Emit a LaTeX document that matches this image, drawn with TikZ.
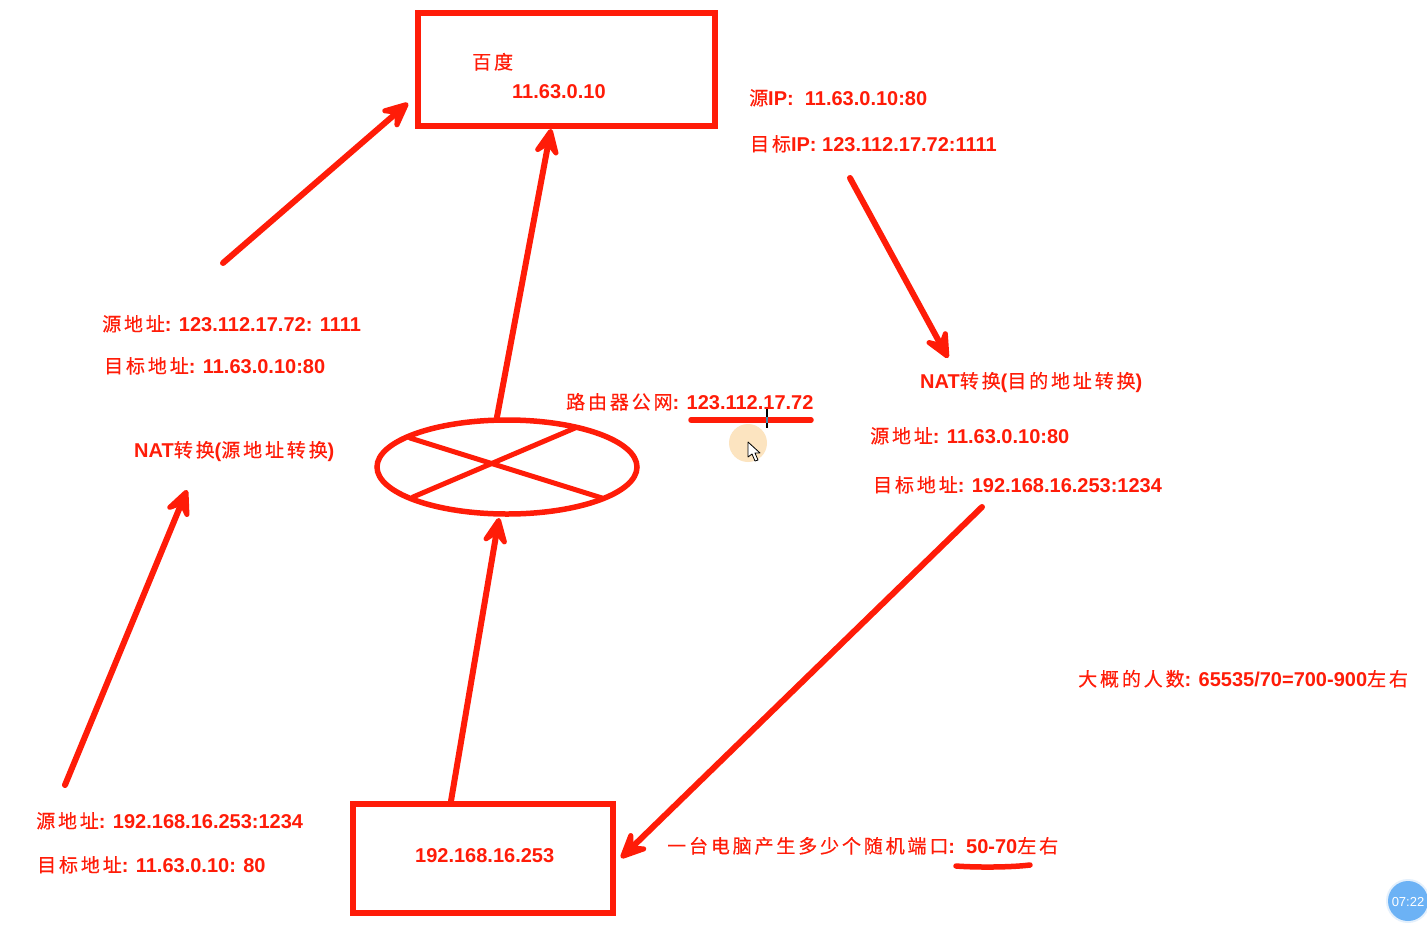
\documentclass[tikz,border=0pt]{standalone}
\usepackage{fontspec}
\setmainfont{Liberation Sans}[BoldFont={Liberation Sans Bold}]
\newfontfamily\cjkf[LetterSpace=15,FakeBold=0.4]{Noto Sans CJK SC}
\newcommand{\zh}[1]{{\cjkf\mdseries\fontsize{19}{20}\selectfont #1}}
\usetikzlibrary{arrows.meta,shapes.geometric}
\definecolor{inkred}{RGB}{255,28,8}
\definecolor{peach}{RGB}{252,228,192}
\definecolor{badge}{RGB}{108,178,245}
\definecolor{badgeedge}{RGB}{228,240,252}
\tikzset{
  x=1pt,y=-1pt,
  lbl/.style={anchor=base west,inner sep=0pt,text=inkred,font=\fontsize{20}{24}\selectfont\bfseries},
  boxn/.style={draw=inkred,line width=6pt,inner sep=0pt,fill=white},
  arr/.style={draw=inkred,line width=6pt,line cap=round,-{Stealth[round,length=36pt,width=33pt,inset=15pt,line width=5pt]}},
  ink/.style={draw=inkred,line width=5pt,line cap=round},
}
\begin{document}
\begin{tikzpicture}
\useasboundingbox (0,0) rectangle (1427,924);
\fill[white] (0,0) rectangle (1427,924);
% boxes
\node[boxn,minimum width=297pt,minimum height=113pt] (baidu) at (566.5,69.5) {};
\node[boxn,minimum width=260pt,minimum height=109pt] (pc) at (483,858.5) {};
\node[boxn,shape=ellipse,line width=5.5pt,minimum width=260pt,minimum height=94pt] (router) at (507,467) {};
% free ends
\coordinate (a1) at (223,263); \coordinate (a1e) at (408,103);
\coordinate (a2) at (497,417); \coordinate (a2e) at (551,129);
\coordinate (a3) at (850,178); \coordinate (a3e) at (948,358);
\coordinate (a4) at (982,507); \coordinate (a4e) at (621,858);
\coordinate (a5) at (451,801); \coordinate (a5e) at (499,518);
\coordinate (a6) at (65,785);  \coordinate (a6e) at (187,490);
\draw[arr] (a1) -- (a1e);
\draw[arr] (a2) -- (a2e);
\draw[arr] (a3) -- (a3e);
\draw[arr] (a4) -- (a4e);
\draw[arr] (a5) -- (a5e);
\draw[arr] (a6) -- (a6e);
% router cross
\draw[ink] (410,438) -- (602,498);
\draw[ink] (413,497) -- (575,428);
% pointer highlight
\fill[peach] (748,443) circle (19);
% underlines
\draw[ink,line width=5.5pt] (691,420) -- (811,420);
\draw[ink,line width=5.5pt] (956,866) .. controls (975,867.5) and (1010,867.5) .. (1030,865);
\draw[black,line width=1.4pt] (767,407) -- (767,428);
\draw[cyan!70!black,line width=1.4pt] (767,417) -- (767,423);
\draw[black,fill=white,line width=.8pt,line join=round] (748,442) -- (748,457) -- (752,454) -- (755,461) -- (758,460) -- (755,453) -- (760,453) -- cycle;
% labels
\node[lbl] (t1) at (472,69) {\zh{百度}};
\node[lbl] (t2) at (512,98) {11.63.0.10};
\node[lbl] (t3) at (749,105) {\zh{源}IP:\ \ 11.63.0.10:80};
\node[lbl] (t4) at (750,151) {\zh{目标}IP: 123.112.17.72:1111};
\node[lbl] (t5) at (102,331) {\zh{源地址}: 123.112.17.72: 1111};
\node[lbl] (t6) at (104,373) {\zh{目标地址}: 11.63.0.10:80};
\node[lbl] (t7) at (134,457) {NAT\zh{转换}(\zh{源地址转换})};
\node[lbl] (t8) at (566,409) {\zh{路由器公网}: 123.112.17.72};
\node[lbl] (t9) at (920,388) {NAT\zh{转换}(\zh{目的地址转换})};
\node[lbl] (t10) at (870,443) {\zh{源地址}: 11.63.0.10:80};
\node[lbl] (t11) at (873,492) {\zh{目标地址}: 192.168.16.253:1234};
\node[lbl] (t12) at (1078,686) {\zh{大概的人数}: 65535/70=700-900\zh{左右}};
\node[lbl] (t13) at (36,828) {\zh{源地址}: 192.168.16.253:1234};
\node[lbl] (t14) at (37,872) {\zh{目标地址}: 11.63.0.10: 80};
\node[lbl] (t15) at (415,862) {192.168.16.253};
\node[lbl] (t16) at (667,853) {\zh{一台电脑产生多少个随机端口}:\ \ 50-70\zh{左右}};
% timer badge
\fill[badgeedge] (1408,901) circle (22);
\fill[badge] (1408,901) circle (20);
\node[inner sep=0pt,text=white,font=\fontsize{13}{15}\selectfont] (timer) at (1408,902) {07:22};
\end{tikzpicture}
\end{document}
